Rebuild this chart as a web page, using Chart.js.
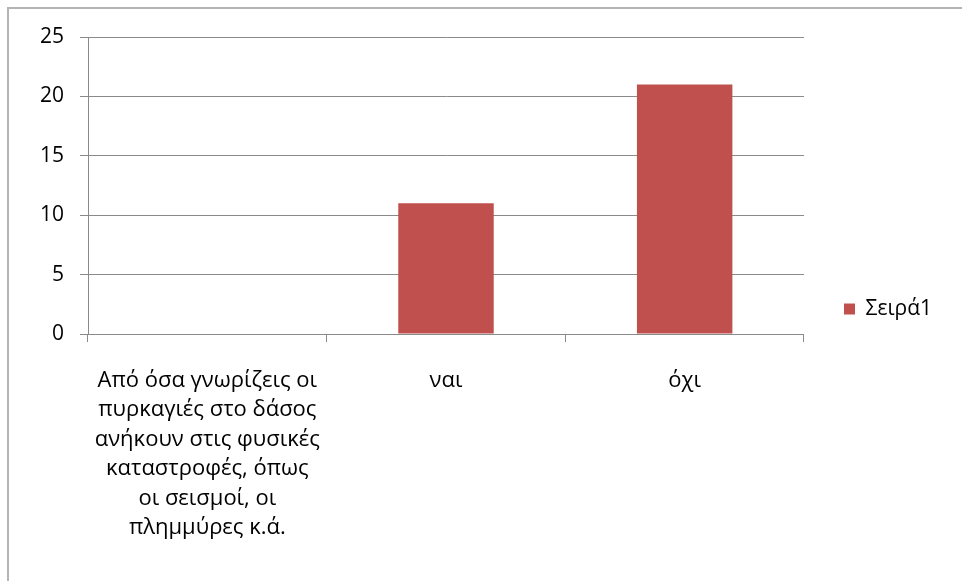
<!DOCTYPE html>
<html>
<head>
<meta charset="utf-8">
<script src="https://cdn.jsdelivr.net/npm/chart.js@4"></script>
<style>
  html, body { margin: 0; padding: 0; background: #fff; }
  #frame { position: absolute; left: 7px; top: 7px; width: 962px; height: 581px;
           border-left: 2px solid #b4b4b4; border-top: 2px solid #b4b4b4; }
  #wrap { position: absolute; left: 0; top: 0; width: 962px; height: 581px; }
</style>
</head>
<body>
<div id="frame"></div>
<div id="wrap"><canvas id="c" width="962" height="581"></canvas></div>
<script>
// δεδομένα
const categories = [
  ['Από όσα γνωρίζεις οι', 'πυρκαγιές στο δάσος', 'ανήκουν στις φυσικές', 'καταστροφές, όπως', 'οι σεισμοί, οι', 'πλημμύρες κ.ά.'],
  'ναι',
  'όχι'
];
const seriesName = 'Σειρά1';
const seriesValues = [null, 11, 21];
const yTicks = [0, 5, 10, 15, 20, 25];

const FONT = '"Open Sans", "Noto Sans", sans-serif';
const GRID = '#8a8a8a';

new Chart(document.getElementById('c'), {
  type: 'bar',
  data: {
    labels: categories,
    datasets: [{
      label: seriesName,
      data: seriesValues,
      backgroundColor: '#c0504d',
      borderWidth: 0,
      barPercentage: 0.4,
      categoryPercentage: 1
    }]
  },
  options: {
    responsive: false,
    animation: false,
    layout: { padding: { top: 37, left: 0, right: 20, bottom: 0 } },
    scales: {
      x: {
        grid: { drawOnChartArea: false, drawTicks: true, tickLength: 8, color: GRID, offset: true },
        border: { display: true, color: GRID, width: 1 },
        ticks: { color: '#000', font: { family: FONT, size: 22, lineHeight: 1.34 }, padding: 24, maxRotation: 0, autoSkip: false },
        afterFit: s => { s.height = 581 - 334; }
      },
      y: {
        min: 0, max: 25,
        afterBuildTicks: s => { s.ticks = yTicks.map(v => ({ value: v })); },
        grid: { color: GRID, tickLength: 8 },
        border: { display: true, color: GRID, width: 1 },
        ticks: { color: '#000', font: { family: FONT, size: 21 }, padding: 16 },
        afterFit: s => { s.width = 88; }
      }
    },
    plugins: {
      legend: {
        position: 'right',
        labels: {
          color: '#000',
          font: { family: FONT, size: 21 },
          boxWidth: 11, boxHeight: 11,
          padding: 40
        }
      },
      tooltip: { enabled: false }
    }
  }
});
</script>
</body>
</html>
